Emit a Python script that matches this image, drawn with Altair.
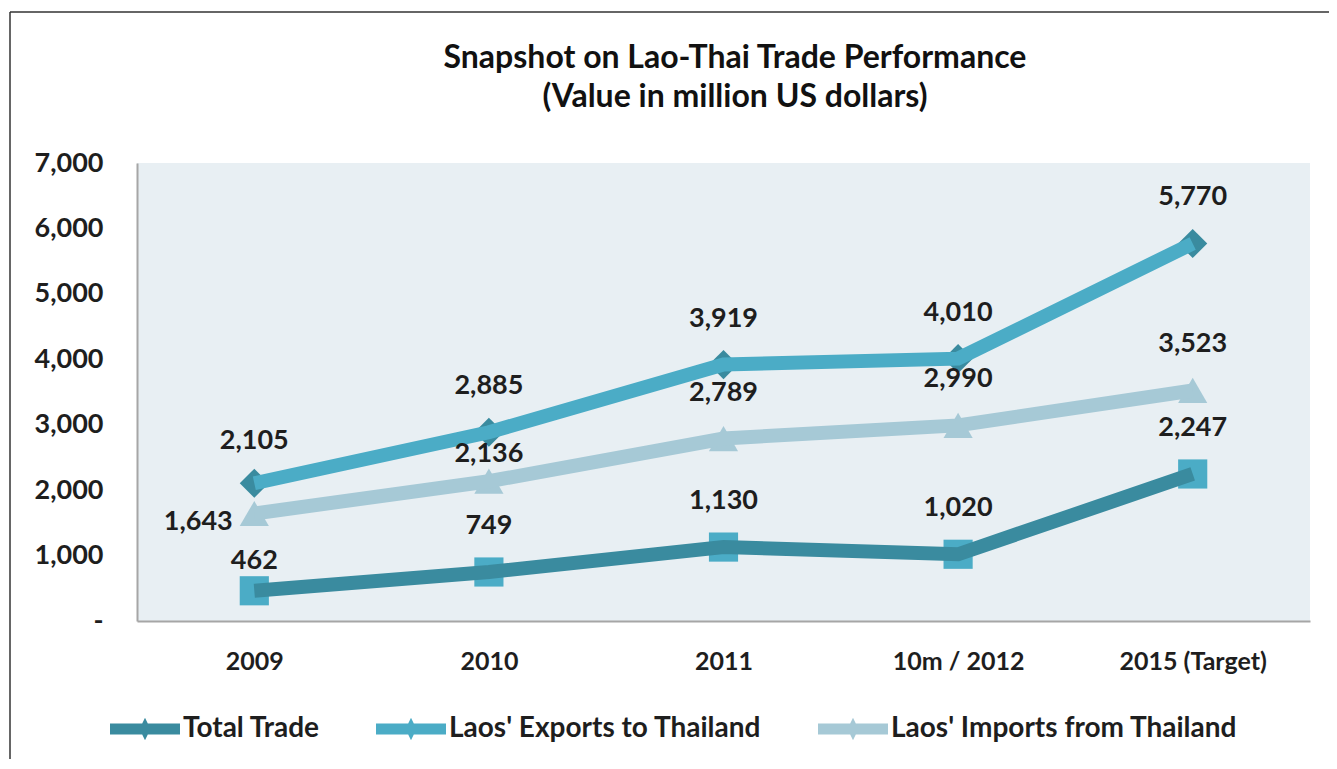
import altair as alt
import pandas as pd

categories = ["2009", "2010", "2011", "10m / 2012", "2015 (Target)"]
total_trade = [2105, 2885, 3919, 4010, 5770]
exports = [462, 749, 1130, 1020, 2247]
imports = [1643, 2136, 2789, 2990, 3523]
series_names = ["Total Trade", "Laos' Exports to Thailand", "Laos' Imports from Thailand"]
title_lines = ["Snapshot on Lao-Thai Trade Performance", "(Value in million US dollars)"]

DARK = "#3a8b9f"
MID = "#4bacc6"
LIGHT = "#a6c9d6"
FONT = "Lato"
TXT = "#1e1e1e"

rows = []
for name, vals in zip(series_names, [total_trade, exports, imports]):
    for c, v in zip(categories, vals):
        rows.append({"category": c, "series": name, "value": v})
df = pd.DataFrame(rows)

x_enc = alt.X(
    "category:N",
    sort=categories,
    scale=alt.Scale(type="point", padding=0.5),
    axis=alt.Axis(
        title=None, labelAngle=0, ticks=False, domainColor="#a6a6a6", domainWidth=2,
        labelFont=FONT, labelFontSize=25, labelFontWeight="bold", labelColor=TXT,
        labelPadding=28,
    ),
)
y_enc = alt.Y(
    "value:Q",
    scale=alt.Scale(domain=[0, 7000], nice=False),
    axis=alt.Axis(
        title=None, values=[0, 1000, 2000, 3000, 4000, 5000, 6000, 7000],
        labelExpr="datum.value == 0 ? '-' : format(datum.value, ',')",
        grid=False, ticks=False, domainColor="#a6a6a6", domainWidth=2,
        labelFont=FONT, labelFontSize=27, labelFontWeight="bold", labelColor=TXT,
        labelPadding=34,
    ),
)

legend_path = "M-1,-0.16L-0.08,-0.16L0,-0.32L0.08,-0.16L1,-0.16L1,0.16L0.08,0.16L0,0.32L-0.08,0.16L-1,0.16Z"

fill_enc = alt.Fill(
    "series:N",
    scale=alt.Scale(domain=series_names, range=[DARK, MID, LIGHT]),
    legend=alt.Legend(
        title=None, orient="none", legendX=-27, legendY=531, direction="horizontal",
        symbolType=legend_path, symbolSize=4900, symbolStrokeWidth=0, symbolOpacity=1,
        labelFont=FONT, labelFontSize=28, labelFontWeight="bold", labelColor=TXT,
        columnPadding=56, labelOffset=3, labelLimit=500,
    ),
)

base = alt.Chart(df)
shapes = ["diamond", "square", "triangle-up"]
point_layers = []
for name, shp in zip(series_names, shapes):
    point_layers.append(
        base.mark_point(filled=True, size=850, opacity=1, shape=shp, strokeWidth=0)
        .encode(x=x_enc, y=y_enc, fill=fill_enc)
        .transform_filter(alt.datum.series == name)
    )

lines = base.mark_line(strokeWidth=14).encode(
    x=x_enc,
    y=y_enc,
    detail="series:N",
    stroke=alt.Stroke(
        "series:N",
        scale=alt.Scale(domain=series_names, range=[MID, DARK, LIGHT]),
        legend=None,
    ),
)

text_style = dict(font=FONT, fontSize=27, fontWeight="bold", color=TXT, baseline="middle")
text_enc = dict(x=x_enc, y=y_enc, text=alt.Text("value:Q", format=","))

special = (
    "(datum.series == 'Total Trade' && datum.category == '2009') || "
    "(datum.series == \"Laos' Exports to Thailand\" && datum.category == '2009') || "
    "(datum.series == \"Laos' Imports from Thailand\" && (datum.category == '2009' || datum.category == '2010'))"
)

labels_main = base.mark_text(dy=-46, **text_style).encode(**text_enc).transform_filter("!(" + special + ")")
labels_a = base.mark_text(dy=-42, **text_style).encode(**text_enc).transform_filter(
    "datum.series == 'Total Trade' && datum.category == '2009'")
labels_b = base.mark_text(dy=-30, **text_style).encode(**text_enc).transform_filter(
    "datum.series == \"Laos' Exports to Thailand\" && datum.category == '2009'")
labels_c = base.mark_text(dy=-27, **text_style).encode(**text_enc).transform_filter(
    "datum.series == \"Laos' Imports from Thailand\" && datum.category == '2010'")
labels_d = base.mark_text(dx=-56, dy=8, **text_style).encode(**text_enc).transform_filter(
    "datum.series == \"Laos' Imports from Thailand\" && datum.category == '2009'")

title_style = dict(font=FONT, fontSize=32, fontWeight="bold", color="#111111", align="center", baseline="middle")
title1 = alt.Chart(pd.DataFrame({"t": [title_lines[0]]})).mark_text(**title_style).encode(
    text="t:N", x=alt.value(598), y=alt.value(-105))
title2 = alt.Chart(pd.DataFrame({"t": [title_lines[1]]})).mark_text(**title_style).encode(
    text="t:N", x=alt.value(598), y=alt.value(-66))

frame_df = pd.DataFrame({"k": [0]})
frame_top = alt.Chart(frame_df).mark_rule(color="#333333", strokeWidth=1.5).encode(
    x=alt.value(-127), x2=alt.value(1200), y=alt.value(-151))
frame_left = alt.Chart(frame_df).mark_rule(color="#333333", strokeWidth=1.5).encode(
    x=alt.value(-127), y=alt.value(-151), y2=alt.value(610))

chart = alt.layer(
    *point_layers, lines, labels_main, labels_a, labels_b, labels_c, labels_d,
    title1, title2, frame_top, frame_left
).properties(
    width=1173,
    height=458,
    autosize=alt.AutoSizeParams(type="none"),
    padding={"left": 129, "top": 155, "right": 19, "bottom": 138},
    background="white",
).configure_view(
    fill="#e8eff3", stroke=None
)

chart.save("out.html", embed_options={"renderer": "svg", "actions": False})
